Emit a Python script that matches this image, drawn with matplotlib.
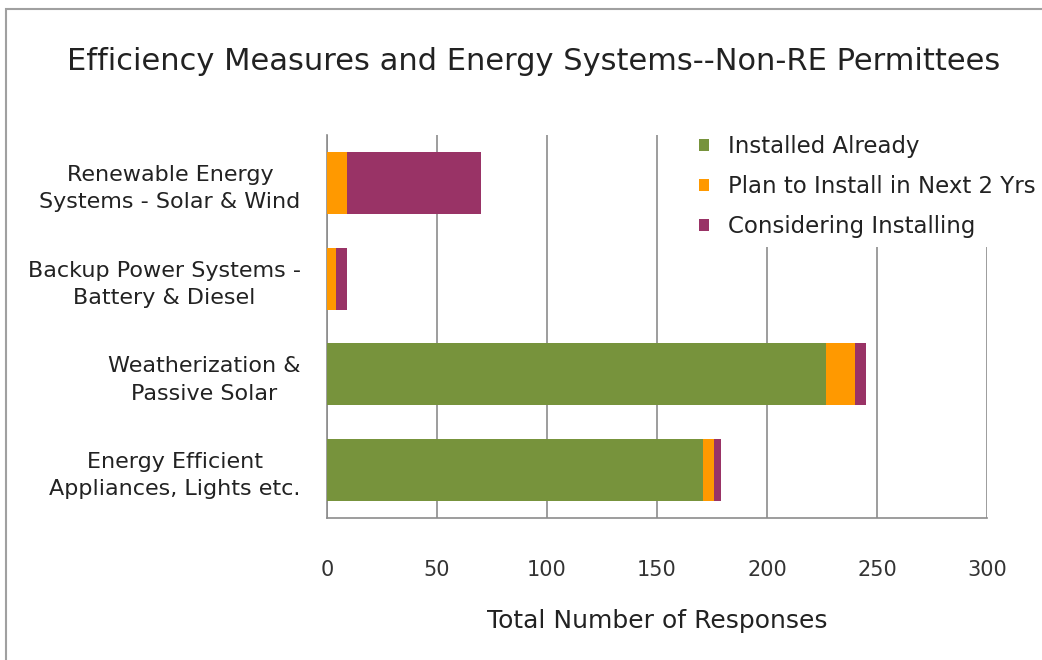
import numpy as np
import matplotlib.pyplot as plt
from matplotlib.patches import Rectangle

# survey counts per measure (top to bottom)
categories = [
    "Renewable Energy\nSystems - Solar & Wind",
    "Backup Power Systems -\nBattery & Diesel",
    "Weatherization &\nPassive Solar",
    "Energy Efficient\nAppliances, Lights etc.",
]
installed_already = [0, 0, 227, 171]
plan_next_2_yrs = [9, 4, 13, 5]
considering = [61, 5, 5, 3]

series_labels = ["Installed Already", "Plan to Install in Next 2 Yrs",
                 "Considering Installing"]
series_colors = ["#77933C", "#FF9900", "#993366"]
x_ticks = [0, 50, 100, 150, 200, 250, 300]

plt.rcParams['font.family'] = ['DejaVu Sans']

fig = plt.figure(figsize=(10.42, 6.6), dpi=100)
fig.patch.set_facecolor('white')

# thin gray frame around the chart area
fig.patches.append(Rectangle((6 / 1042, -0.1), 1.2, 1 - 9 / 660 + 0.1,
                             transform=fig.transFigure, fill=False,
                             edgecolor='#A0A0A0', linewidth=1.5))

ax = fig.add_axes([327 / 1042, 142 / 660, 660 / 1042, 383 / 660])

y = np.arange(len(categories))
h = 0.65
left = np.zeros(len(categories))
handles = []
for vals, lab, col in zip([installed_already, plan_next_2_yrs, considering],
                          series_labels, series_colors):
    b = ax.barh(y, vals, height=h, left=left, color=col, label=lab, zorder=3)
    handles.append(b)
    left = left + np.array(vals)

ax.set_xlim(0, 300)
ax.set_ylim(len(categories) - 0.5, -0.5)
ax.set_xticks(x_ticks)
ax.set_xticklabels([str(t) for t in x_ticks], fontsize=15, color='#333333')
ax.set_yticks(y)
ax.set_yticklabels(categories, fontsize=16, color='#222222', linespacing=1.45)
for t in ax.get_yticklabels():
    t.set_multialignment('center')
ax.tick_params(axis='x', length=0, pad=30)
ax.tick_params(axis='y', length=0, pad=19)

ax.grid(axis='x', color='#8C8C8C', linewidth=1.2, zorder=0)
ax.set_axisbelow(True)
for s in ['top', 'right']:
    ax.spines[s].set_visible(False)
for s in ['left', 'bottom']:
    ax.spines[s].set_color('#8C8C8C')
    ax.spines[s].set_linewidth(1.2)

ax.set_xlabel("Total Number of Responses", fontsize=18, color='#222222',
              labelpad=21)

leg = ax.legend(handles=handles, loc='upper left',
                bbox_to_anchor=(690 / 1042, 1 - 126 / 660),
                bbox_transform=fig.transFigure, frameon=True, fontsize=16.5,
                handlelength=0.45, handleheight=0.45, handletextpad=0.8,
                labelspacing=0.74, borderpad=0.4, borderaxespad=0)
leg.get_frame().set_facecolor('white')
leg.get_frame().set_edgecolor('none')
leg.get_frame().set_alpha(1)
leg.set_zorder(5)
for txt in leg.get_texts():
    txt.set_color('#222222')

fig.text(534 / 1042, 1 - 62 / 660,
         "Efficiency Measures and Energy Systems--Non-RE Permittees",
         ha='center', va='center', fontsize=22, color='#222222')

fig.savefig("out.png", dpi=100, facecolor='white')
